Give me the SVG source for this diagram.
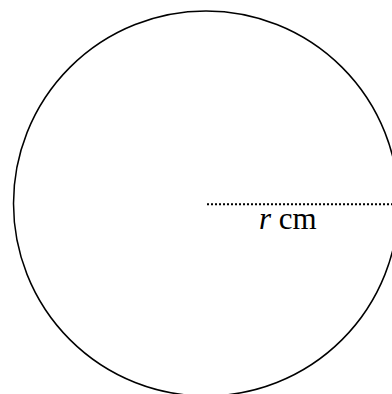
<svg xmlns="http://www.w3.org/2000/svg" width="392" height="394" viewBox="0 0 392 394">
<style>
.shape{fill:none;stroke:#000;stroke-width:1.5}
.radius{fill:none;stroke:#000;stroke-width:2;stroke-dasharray:2 2}
.lbl{font-family:"Liberation Serif","Times New Roman",serif;font-size:31px;fill:#000}
</style>
<rect width="392" height="394" fill="#fff"/>
<g id="circle">
<circle class="shape" cx="206" cy="203.5" r="192.5"/>
</g>
<g id="connectors">
<line class="radius" x1="207" y1="204.3" x2="392" y2="204.3"/>
</g>
<g id="label">
<text class="lbl" x="259" y="228.5"><tspan font-style="italic">r</tspan> cm</text>
</g>
</svg>
